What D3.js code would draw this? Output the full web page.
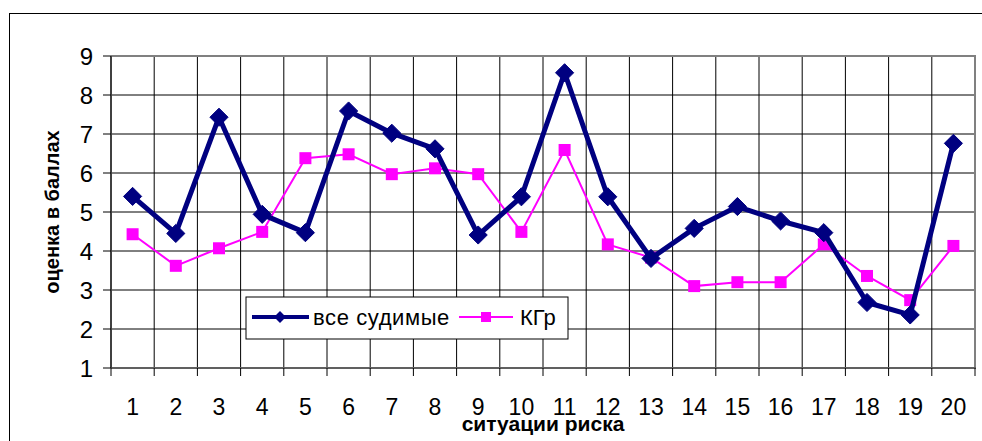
<!DOCTYPE html>
<html lang="ru">
<head>
<meta charset="UTF-8">
<title>Chart</title>
<style>
    body { margin: 0; background: #fff; }
    svg { display: block; }
    text { font-family: "Liberation Sans", Arial, sans-serif; }
</style>
</head>
<body>
<script src="https://cdnjs.cloudflare.com/ajax/libs/d3/7.8.5/d3.min.js"></script>
<script>
    let width = 982
    let height = 441

    let situations = d3.range(1, 21)
    let allConvicted = [5.4, 4.45, 7.43, 4.94, 4.47, 7.59, 7.02, 6.62, 4.41, 5.39, 8.57, 5.39, 3.81, 4.58, 5.14, 4.77, 4.47, 2.68, 2.36, 6.76]
    let kgr = [4.43, 3.62, 4.07, 4.49, 6.38, 6.48, 5.97, 6.12, 5.97, 4.49, 6.59, 4.17, 3.83, 3.1, 3.2, 3.2, 4.17, 3.36, 2.74, 4.13]
    let yTicks = [1, 2, 3, 4, 5, 6, 7, 8, 9]
    let seriesNames = ["все судимые", "КГр"]

    let plot = {left: 111, right: 975, top: 56, bottom: 368}

    let svg = d3.select("body").append("svg")
        .attr("width", width)
        .attr("height", height)

    // outer chart border
    svg.append("rect")
        .attr("x", 9.5).attr("y", 13.5)
        .attr("width", 1000).attr("height", 500)
        .attr("fill", "none").attr("stroke", "#000")

    let x = d3.scaleBand().domain(situations).range([plot.left, plot.right])
    let y = d3.scaleLinear().domain([1, 9]).range([plot.bottom, plot.top])
    let cx = d => x(d) + x.bandwidth() / 2

    // horizontal grid
    svg.append("g").selectAll("line")
        .data(yTicks.slice(1))
        .enter().append("line")
            .attr("x1", plot.left).attr("x2", plot.right)
            .attr("y1", d => y(d)).attr("y2", d => y(d))
            .attr("stroke", "#000").attr("stroke-width", 1)

    // vertical grid at category boundaries
    let bounds = situations.map(d => x(d)).concat([plot.right])
    svg.append("g").selectAll("line")
        .data(bounds.slice(1, -1))
        .enter().append("line")
            .attr("x1", d => d).attr("x2", d => d)
            .attr("y1", plot.top).attr("y2", plot.bottom)
            .attr("stroke", "#000").attr("stroke-width", 1)

    // plot frame top/right
    svg.append("path")
        .attr("d", `M${plot.left},${plot.top}H${plot.right}V${plot.bottom}`)
        .attr("fill", "none").attr("stroke", "#808080").attr("stroke-width", 2)

    // axes
    svg.append("line")
        .attr("x1", plot.left).attr("x2", plot.right + 1)
        .attr("y1", plot.bottom).attr("y2", plot.bottom)
        .attr("stroke", "#606060").attr("stroke-width", 2)
    svg.append("line")
        .attr("x1", plot.left).attr("x2", plot.left)
        .attr("y1", plot.top).attr("y2", plot.bottom)
        .attr("stroke", "#404040").attr("stroke-width", 2)

    // tick marks
    svg.append("g").selectAll("line")
        .data(bounds)
        .enter().append("line")
            .attr("x1", d => d).attr("x2", d => d)
            .attr("y1", plot.bottom).attr("y2", plot.bottom + 8)
            .attr("stroke", "#000")
    svg.append("g").selectAll("line")
        .data(yTicks)
        .enter().append("line")
            .attr("x1", plot.left - 8).attr("x2", plot.left)
            .attr("y1", d => y(d)).attr("y2", d => y(d))
            .attr("stroke", "#000")

    // tick labels
    svg.append("g").selectAll("text")
        .data(yTicks)
        .enter().append("text")
            .attr("x", 93)
            .attr("y", d => y(d))
            .attr("dy", "0.36em")
            .attr("text-anchor", "end")
            .attr("font-size", 24)
            .text(d => d)
    svg.append("g").selectAll("text")
        .data(situations)
        .enter().append("text")
            .attr("x", d => cx(d))
            .attr("y", 415)
            .attr("text-anchor", "middle")
            .attr("font-size", 23)
            .text(d => d)

    // axis titles
    svg.append("text")
        .attr("transform", `translate(59,${(plot.top + plot.bottom) / 2}) rotate(-90)`)
        .attr("text-anchor", "middle")
        .attr("font-size", 20)
        .attr("font-weight", "bold")
        .text("оценка в баллах")
    svg.append("text")
        .attr("x", (plot.left + plot.right) / 2)
        .attr("y", 431)
        .attr("text-anchor", "middle")
        .attr("font-size", 21)
        .attr("font-weight", "bold")
        .text("ситуации риска")

    let line = d3.line().x((d, i) => cx(situations[i])).y(d => y(d))
    let diamond = d3.symbol().type(d3.symbolDiamond2).size(210)

    // КГр series
    svg.append("path")
        .datum(kgr)
        .attr("d", line)
        .attr("fill", "none").attr("stroke", "#ff00ff").attr("stroke-width", 2)
    svg.append("g").selectAll("rect")
        .data(kgr)
        .enter().append("rect")
            .attr("x", (d, i) => cx(situations[i]) - 6)
            .attr("y", d => y(d) - 6)
            .attr("width", 12).attr("height", 12)
            .attr("fill", "#ff00ff")

    // все судимые series
    svg.append("path")
        .datum(allConvicted)
        .attr("d", line)
        .attr("fill", "none").attr("stroke", "#000080").attr("stroke-width", 5)
        .attr("stroke-linejoin", "round")
    svg.append("g").selectAll("path")
        .data(allConvicted)
        .enter().append("path")
            .attr("transform", (d, i) => `translate(${cx(situations[i])},${y(d)})`)
            .attr("d", diamond)
            .attr("fill", "#000080")
            .attr("stroke", "#000080").attr("stroke-width", 1)
            .attr("stroke-linejoin", "round")

    // legend
    let lg = svg.append("g")
    lg.append("rect")
        .attr("x", 246).attr("y", 297)
        .attr("width", 322).attr("height", 42)
        .attr("fill", "#fff").attr("stroke", "#000")
    lg.append("line")
        .attr("x1", 252).attr("x2", 309).attr("y1", 317).attr("y2", 317)
        .attr("stroke", "#000080").attr("stroke-width", 4)
    lg.append("path")
        .attr("transform", "translate(280,317)")
        .attr("d", d3.symbol().type(d3.symbolDiamond2).size(90))
        .attr("fill", "#000080")
    lg.append("text")
        .attr("x", 313).attr("y", 317).attr("dy", "0.36em")
        .attr("font-size", 22)
        .attr("letter-spacing", 0.6)
        .text(seriesNames[0])
    lg.append("line")
        .attr("x1", 459).attr("x2", 513).attr("y1", 317).attr("y2", 317)
        .attr("stroke", "#ff00ff").attr("stroke-width", 2)
    lg.append("rect")
        .attr("x", 481).attr("y", 312).attr("width", 10).attr("height", 10)
        .attr("fill", "#ff00ff")
    lg.append("text")
        .attr("x", 520).attr("y", 317).attr("dy", "0.36em")
        .attr("font-size", 22)
        .text(seriesNames[1])
</script>
</body>
</html>
